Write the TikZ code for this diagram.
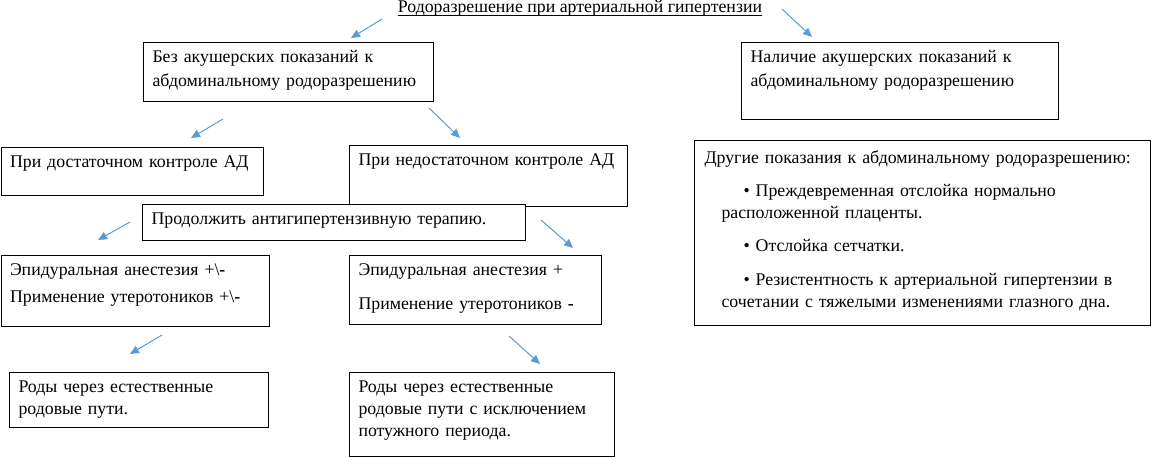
\documentclass[tikz,border=0pt]{standalone}
\usepackage{fontspec}
\setmainfont{Liberation Serif}
\usepackage{tikz}
\usetikzlibrary{arrows.meta, positioning}
\definecolor{arrowblue}{HTML}{5B9BD5}

\tikzset{
  box/.style={draw=black, line width=1pt, anchor=north west, align=left,
              inner xsep=9pt, inner ysep=4pt, text height=16pt,
              font=\fontsize{17.8}{22}\selectfont},
  arr/.style={draw=arrowblue, line width=1pt,
              -{Triangle[length=9pt, width=8pt]}}
}

\begin{document}
\begin{tikzpicture}[x=1pt, y=-1pt]
\useasboundingbox (0,0) rectangle (1151,457);

% title
\node[font=\fontsize{17.8}{22}\selectfont, anchor=base, inner sep=0pt] (title) at (580,13)
  {Родоразрешение при артериальной гипертензии};
\draw[line width=0.8pt] ([yshift=-2.5pt]title.base west) -- ([yshift=-2.5pt]title.base east);

% first level
\node[box, text width=272pt, text depth=35pt] (noind) at (143,42)
  {Без акушерских показаний к\\[2pt] абдоминальному родоразрешению};
\node[box, text width=299pt, text depth=53pt] (ind) at (741,42)
  {Наличие акушерских показаний к\\[2pt] абдоминальному родоразрешению};

% blood pressure control
\node[box, text width=244pt, text depth=24pt] (good) at (0.5,147)
  {При достаточном контроле АД};
\node[box, text width=260pt, text depth=37pt] (poor) at (349,145)
  {При недостаточном контроле АД};
\node[box, fill=white, text width=365pt, text depth=12pt] (therapy) at (142,204)
  {Продолжить антигипертензивную терапию.};

% anaesthesia
\node[box, text width=250pt, text depth=47pt] (epiA) at (0.5,255)
  {Эпидуральная анестезия +\textbackslash\textbf{-}\\[5pt]
   Применение утеротоников +\textbackslash\textbf{-}};
\node[box, text width=234pt, text depth=45pt] (epiB) at (349,255)
  {Эпидуральная анестезия +\\[12pt] Применение утеротоников \textbf{-}};

% delivery
\node[box, text width=241pt, text depth=31pt] (birthA) at (9,372)
  {Роды через естественные\\ родовые пути.};
\node[box, text width=247pt, text depth=60pt] (birthB) at (349,372)
  {Роды через естественные\\ родовые пути с исключением\\ потужного периода.};

% other indications
\node[box, text width=436pt, text height=19pt, text depth=158pt, inner xsep=10pt] (other) at (694,140)
  {Другие показания к абдоминальному родоразрешению:\\[11pt]
   \hspace*{39pt}• Преждевременная отслойка нормально\\
   \hspace*{17pt}расположенной плаценты.\\[11pt]
   \hspace*{39pt}• Отслойка сетчатки.\\[12pt]
   \hspace*{39pt}• Резистентность к артериальной гипертензии в\\
   \hspace*{17pt}сочетании с тяжелыми изменениями глазного дна.};

% arrow ends
\coordinate (s1) at (382,19);  \coordinate (e1) at (351,38);
\coordinate (s2) at (782,9);   \coordinate (e2) at (812,37);
\coordinate (s3) at (223,119); \coordinate (e3) at (191,138);
\coordinate (s4) at (429,108); \coordinate (e4) at (460,138);
\coordinate (s5) at (130,222); \coordinate (e5) at (98,240);
\coordinate (s6) at (541,220); \coordinate (e6) at (573,248);
\coordinate (s7) at (162,335); \coordinate (e7) at (130,354);
\coordinate (s8) at (509,336); \coordinate (e8) at (540,364);

\foreach \s/\e in {s1/e1, s2/e2, s3/e3, s4/e4, s5/e5, s6/e6, s7/e7, s8/e8}
  \draw[arr] (\s) -- (\e);
\end{tikzpicture}
\end{document}
